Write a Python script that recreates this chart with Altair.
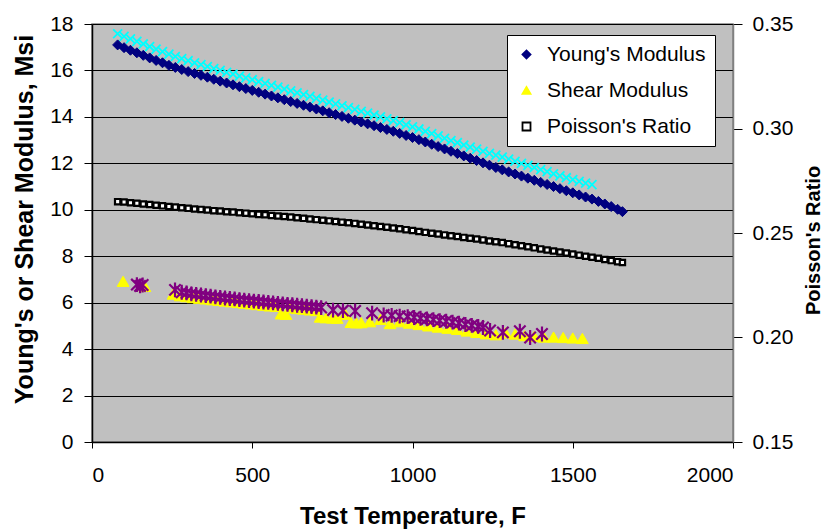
import altair as alt
import pandas as pd

# ---------------- data ----------------
temp_f = [80, 100, 120, 140, 160, 180, 200, 220, 240, 260, 280, 300, 320, 340, 360, 380,
          400, 420, 440, 460, 480, 500, 520, 540, 560, 580, 600, 620, 640, 660, 680, 700,
          720, 740, 760, 780, 800, 820, 840, 860, 880, 900, 920, 940, 960, 980, 1000, 1020,
          1040, 1060, 1080, 1100, 1120, 1140, 1160, 1180, 1200, 1220, 1240, 1260, 1280, 1300,
          1320, 1340, 1360, 1380, 1400, 1420, 1440, 1460, 1480, 1500, 1520, 1540, 1560, 1580,
          1600, 1620, 1640, 1655]

youngs_msi = [17.10, 16.98, 16.87, 16.76, 16.65, 16.54, 16.43, 16.33, 16.22, 16.13, 16.04, 15.95,
              15.87, 15.79, 15.71, 15.62, 15.54, 15.46, 15.38, 15.30, 15.22, 15.14, 15.06, 14.98,
              14.90, 14.82, 14.74, 14.66, 14.58, 14.50, 14.42, 14.34, 14.26, 14.18, 14.10, 14.02,
              13.94, 13.86, 13.78, 13.70, 13.62, 13.54, 13.46, 13.38, 13.29, 13.20, 13.11, 13.02,
              12.92, 12.82, 12.72, 12.62, 12.52, 12.42, 12.32, 12.22, 12.12, 12.02, 11.92, 11.82,
              11.72, 11.63, 11.54, 11.45, 11.36, 11.27, 11.18, 11.09, 11.00, 10.91, 10.82, 10.73,
              10.64, 10.55, 10.46, 10.36, 10.25, 10.14, 10.02, 9.92]

poisson_ratio = [0.2650, 0.2648, 0.2645, 0.2642, 0.2639, 0.2636, 0.2633, 0.2630, 0.2627, 0.2624,
                 0.2621, 0.2618, 0.2615, 0.2613, 0.2610, 0.2607, 0.2605, 0.2602, 0.2600, 0.2597,
                 0.2595, 0.2592, 0.2589, 0.2587, 0.2584, 0.2581, 0.2579, 0.2576, 0.2573, 0.2570,
                 0.2567, 0.2564, 0.2561, 0.2558, 0.2555, 0.2552, 0.2549, 0.2546, 0.2542, 0.2538,
                 0.2535, 0.2531, 0.2528, 0.2524, 0.2520, 0.2516, 0.2512, 0.2507, 0.2503, 0.2499,
                 0.2495, 0.2491, 0.2487, 0.2483, 0.2479, 0.2475, 0.2471, 0.2467, 0.2462, 0.2458,
                 0.2454, 0.2449, 0.2444, 0.2439, 0.2434, 0.2429, 0.2424, 0.2419, 0.2414, 0.2409,
                 0.2404, 0.2399, 0.2394, 0.2389, 0.2384, 0.2379, 0.2373, 0.2368, 0.2363, 0.2359]

# second Young's-modulus data set (cyan x markers, not in legend): temps 80..1560
cyan_msi = [17.58, 17.47, 17.36, 17.25, 17.14, 17.03, 16.92, 16.81, 16.70, 16.60, 16.51, 16.42,
            16.33, 16.25, 16.17, 16.08, 16.00, 15.92, 15.84, 15.76, 15.68, 15.60, 15.52, 15.44,
            15.36, 15.28, 15.20, 15.12, 15.04, 14.96, 14.88, 14.80, 14.72, 14.64, 14.56, 14.48,
            14.40, 14.32, 14.24, 14.16, 14.08, 14.00, 13.92, 13.84, 13.75, 13.66, 13.57, 13.48,
            13.38, 13.28, 13.18, 13.08, 12.98, 12.89, 12.79, 12.70, 12.61, 12.52, 12.43, 12.35,
            12.27, 12.18, 12.09, 12.00, 11.91, 11.82, 11.73, 11.64, 11.55, 11.46, 11.38, 11.30,
            11.22, 11.15, 11.08]

shear_temp_f = [97, 165, 253, 275, 295, 315, 335, 355, 375, 395, 415, 435, 455, 475, 495, 515,
                535, 555, 575, 590, 605, 620, 640, 660, 680, 700, 712, 730, 750, 765, 790, 808,
                825, 840, 867, 900, 930, 960, 990, 1020, 1050, 1080, 1110, 1140, 1170, 1200,
                1230, 1260, 1290, 1320, 1350, 1380, 1410, 1440, 1470, 1500, 1530]
shear_msi = [6.92, 6.70, 6.37, 6.30, 6.26, 6.22, 6.19, 6.16, 6.13, 6.10, 6.07, 6.04, 6.01, 5.98,
             5.95, 5.92, 5.89, 5.86, 5.84, 5.52, 5.50, 5.78, 5.75, 5.72, 5.69, 5.66, 5.38, 5.35,
             5.34, 5.33, 5.50, 5.15, 5.13, 5.14, 5.18, 5.28, 5.10, 5.18, 5.12, 5.06, 5.00, 4.95,
             4.90, 4.85, 4.78, 4.72, 4.66, 4.62, 4.70, 4.65, 4.58, 4.55, 4.52, 4.52, 4.50, 4.48,
             4.46]

# second shear-modulus data set (purple asterisks, not in legend)
shear2_temp_f = [140, 150, 158, 259, 280, 295, 310, 325, 340, 355, 370, 385, 400, 415, 430, 445,
                 460, 475, 490, 505, 520, 535, 550, 565, 580, 595, 610, 625, 640, 655, 670, 685,
                 700, 715, 752, 783, 821, 874, 910, 935, 960, 985, 1005, 1025, 1045, 1065, 1085,
                 1105, 1125, 1145, 1165, 1185, 1205, 1220, 1242, 1282, 1335, 1367, 1404]
shear2_msi = [6.78, 6.72, 6.76, 6.55, 6.45, 6.42, 6.38, 6.36, 6.33, 6.30, 6.28, 6.25, 6.23, 6.20,
              6.18, 6.16, 6.13, 6.11, 6.09, 6.07, 6.05, 6.03, 6.01, 5.99, 5.97, 5.95, 5.93, 5.91,
              5.89, 5.87, 5.85, 5.83, 5.81, 5.79, 5.68, 5.66, 5.64, 5.55, 5.47, 5.45, 5.42, 5.40,
              5.36, 5.33, 5.30, 5.27, 5.23, 5.20, 5.16, 5.12, 5.06, 5.02, 4.98, 4.93, 4.80, 4.72,
              4.77, 4.50, 4.65]

series_names = ["Young's Modulus", "Shear Modulus", "Poisson's Ratio"]
fill_colors = ["#000080", "#FFFF00", "#FFFFFF"]
stroke_colors = ["#000080", "#FFFF00", "#000000"]
shapes = ["diamond", "triangle-up", "square"]

x_ticks = [0, 500, 1000, 1500, 2000]
left_ticks = [0, 2, 4, 6, 8, 10, 12, 14, 16, 18]
right_ticks = [0.15, 0.20, 0.25, 0.30, 0.35]

# ---------------- tables ----------------
young_df = pd.DataFrame({"temp": temp_f, "value": youngs_msi, "series": series_names[0]})
shear_df = pd.DataFrame({"temp": shear_temp_f, "value": shear_msi, "series": series_names[1]})
poisson_df = pd.DataFrame({"temp": temp_f, "value": poisson_ratio, "series": series_names[2]})
cyan_df = pd.DataFrame({"temp": temp_f[:len(cyan_msi)], "value": cyan_msi})
purple_df = pd.DataFrame({"temp": shear2_temp_f, "value": shear2_msi})

FONT = "Liberation Sans"

legend = alt.Legend(
    title=None, orient="none", legendX=415, legendY=11,
    fillColor="white", strokeColor="black", padding=9,
    labelFont=FONT, labelFontSize=21, labelColor="black",
    rowPadding=14, labelOffset=10, symbolStrokeWidth=1.8, symbolSize=64,
)

x_enc = alt.X("temp:Q", scale=alt.Scale(domain=[0, 2000], nice=False),
              axis=alt.Axis(values=x_ticks, format="d", title="Test Temperature, F", grid=False,
                            labelFontSize=21, tickSize=6, labelPadding=16,
                            titleFontSize=24, titleFontWeight="bold", titleY=81,
                            titleBaseline="alphabetic"))

y_left = alt.Y("value:Q", scale=alt.Scale(domain=[0, 18], nice=False),
               axis=alt.Axis(values=left_ticks, title="Young's or Shear Modulus, Msi",
                             grid=True, labelFontSize=21, tickSize=8, labelPadding=11,
                             titleFontSize=25, titleFontWeight="bold", titlePadding=12,
                             titleY=195))

y_right = alt.Y("value:Q", scale=alt.Scale(domain=[0.15, 0.35], nice=False),
                axis=alt.Axis(orient="right", values=right_ticks, format=".2f",
                              title="Poisson's Ratio", grid=False, labelFontSize=21,
                              tickSize=9, labelPadding=10, domainColor="#808080",
                              titleFontSize=20, titleFontWeight="bold", titleAngle=270,
                              titleBaseline="top", titlePadding=11, titleY=216))

fill_enc = alt.Fill("series:N", scale=alt.Scale(domain=series_names, range=fill_colors), legend=legend)
stroke_enc = alt.Stroke("series:N", scale=alt.Scale(domain=series_names, range=stroke_colors), legend=legend)
shape_enc = alt.Shape("series:N", scale=alt.Scale(domain=series_names, range=shapes), legend=legend)

young = alt.Chart(young_df).mark_point(filled=True, opacity=1, strokeWidth=1, size=100).encode(
    x=x_enc, y=y_left, fill=fill_enc, stroke=stroke_enc, shape=shape_enc)

shear = alt.Chart(shear_df).mark_point(filled=True, opacity=1, strokeWidth=1, size=140).encode(
    x=x_enc, y=y_left, fill=fill_enc, stroke=stroke_enc, shape=shape_enc)

cyan = alt.Chart(cyan_df).mark_point(
    shape="M-1,-1L1,1M1,-1L-1,1", filled=False, stroke="#00FFFF", strokeWidth=1.8,
    size=80, opacity=1).encode(x=x_enc, y=y_left)

purple = alt.Chart(purple_df).mark_point(
    shape="M-1,-1L1,1M1,-1L-1,1M0,-1.3L0,1.3", filled=False, stroke="#800080",
    strokeWidth=2.2, size=130, opacity=1).encode(x=x_enc, y=y_left)

poisson = alt.Chart(poisson_df).mark_point(filled=True, opacity=1, strokeWidth=2.2, size=28).encode(
    x=x_enc, y=y_right, fill=fill_enc, stroke=stroke_enc, shape=shape_enc)

left = alt.layer(young, shear, cyan, purple)

chart = alt.layer(left, poisson).resolve_scale(y="independent").properties(
    width=641, height=418,
    background="white",
    autosize=alt.AutoSizeParams(type="none"),
    padding={"left": 84, "top": 16, "right": 90, "bottom": 87},
).configure_view(
    fill="#C0C0C0", stroke="#808080", strokeWidth=1.5
).configure_axis(
    labelFont=FONT, titleFont=FONT, labelColor="black", titleColor="black",
    domainColor="black", tickColor="black", gridColor="black", gridOpacity=1,
    gridWidth=1, domainWidth=1.5
)

chart.save("out.html", embed_options={"renderer": "svg", "actions": False})
